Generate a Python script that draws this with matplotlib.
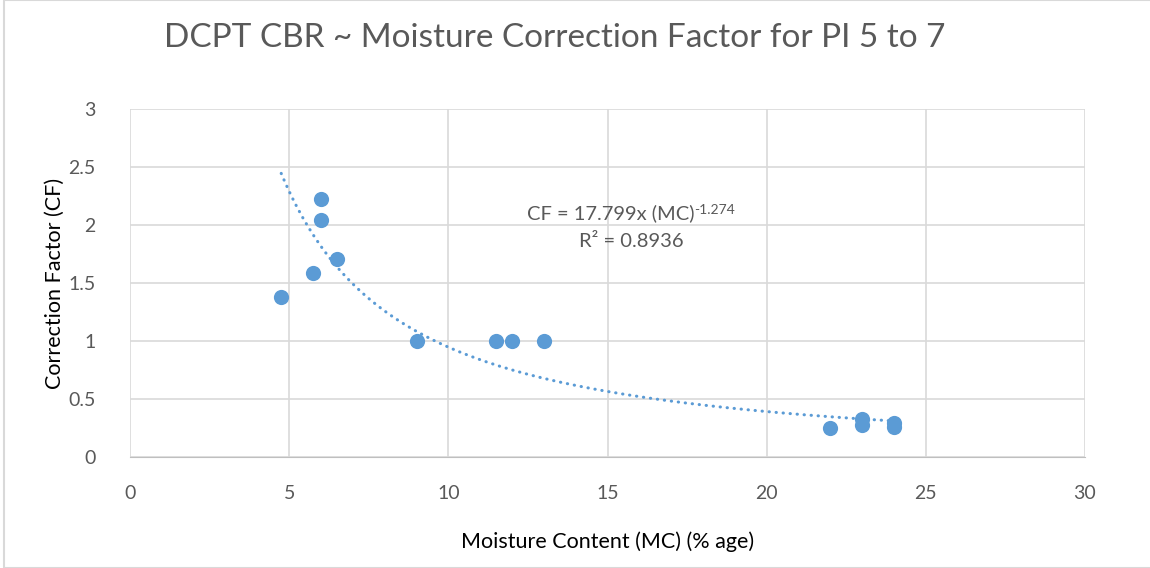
import numpy as np
import matplotlib.pyplot as plt
from matplotlib.patches import Rectangle

plt.rcParams['font.family'] = ['Lato', 'DejaVu Sans']

# moisture content (%) and correction factor
mc = [4.75, 5.75, 6.0, 6.0, 6.5, 9.0, 11.5, 12.0, 13.0, 22.0, 23.0, 23.0, 24.0, 24.0]
cf = [1.38, 1.59, 2.22, 2.04, 1.71, 1.0, 1.0, 1.0, 1.0, 0.25, 0.33, 0.28, 0.29, 0.26]

# power trendline shown on the chart: CF = a * MC^b
coef_a = 17.799
coef_b = -1.274
r2 = 0.8936

blue = "#5B9BD5"
grey = "#595959"

fig = plt.figure(figsize=(11.5, 5.68), dpi=100)
ax = fig.add_axes([130 / 1150, 1 - 457 / 568, 955 / 1150, 348 / 568])

xfit = np.linspace(min(mc), max(mc), 200)
ax.plot(xfit, coef_a * xfit ** coef_b, color=blue, lw=2.2, ls=(0, (0.1, 2.2)),
        dash_capstyle="round", zorder=2)
ax.scatter(mc, cf, s=120, color=blue, zorder=3, linewidths=0)

ax.set_xlim(0, 30)
ax.set_ylim(0, 3)
ax.set_xticks(range(0, 31, 5))
ax.set_yticks([0, 0.5, 1, 1.5, 2, 2.5, 3])
ax.set_yticklabels(["0", "0.5", "1", "1.5", "2", "2.5", "3"])
ax.grid(True, color="#D9D9D9", lw=1.2)
ax.set_axisbelow(True)
for s in ["top", "right", "left"]:
    ax.spines[s].set_visible(False)
ax.spines["bottom"].set_color("#BFBFBF")
ax.tick_params(length=0, labelsize=14, labelcolor=grey)
ax.tick_params(axis="x", pad=20)
ax.tick_params(axis="y", pad=25)

ax.set_xlabel("Moisture Content (MC) (% age)", fontsize=15.5, labelpad=21)
ax.set_ylabel("Correction Factor (CF)", fontsize=15.5, labelpad=2,
              bbox=dict(facecolor="white", edgecolor="none", pad=1))

eq = ax.text(15.1, 2.1, "CF = 17.799x (MC)", fontsize=14.5, color=grey,
             ha="center", va="center")
ax.annotate("%.3f" % coef_b, xy=(1, 1), xycoords=eq, xytext=(0, 0),
            textcoords="offset points", fontsize=10, color=grey, ha="left", va="top")
ax.text(15.75, 1.86, "R² = %s" % r2, fontsize=14.5, color=grey, ha="center", va="center")

fig.text(555 / 1150, 1 - 38 / 568, "DCPT CBR ~ Moisture Correction Factor for PI 5 to 7",
         fontsize=24, color=grey, ha="center", va="center")

fig.patches.append(Rectangle((4 / 1150, 0), 1, 1, transform=fig.transFigure,
                             fill=False, edgecolor="#D9D9D9", lw=1.5))

fig.savefig("out.png", dpi=100)
